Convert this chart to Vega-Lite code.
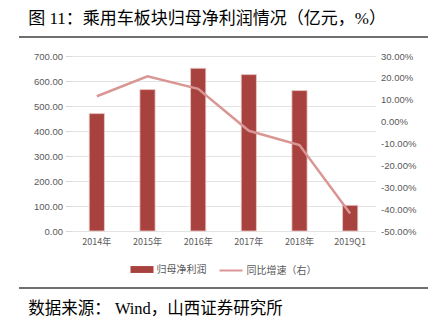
{
  "$schema": "https://vega.github.io/schema/vega-lite/v6.json",
  "background": "white",
  "padding": {"left": 18, "top": 10, "right": 8, "bottom": 2},
  "bounds": "flush",
  "center": true,
  "spacing": 19,
  "resolve": {"scale": {"fill": "independent", "stroke": "independent"}, "legend": {"fill": "independent", "stroke": "independent"}},
  "config": {
    "view": {"stroke": null},
    "font": "Noto Sans CJK SC",
    "axis": {"labelColor": "#595959", "grid": false, "domain": false, "ticks": false, "title": null},
    "legend": {"labelFont": "Noto Sans CJK SC", "labelFontSize": 10, "labelColor": "#595959", "orient": "bottom", "direction": "horizontal", "offset": 12,
      "layout": {"bottom": {"anchor": "middle", "direction": "horizontal", "margin": 12}}}
  },
  "datasets": {
    "main": [
      {"period": "2014年", "profit": 469.6, "growth": 0.116},
      {"period": "2015年", "profit": 565.6, "growth": 0.207},
      {"period": "2016年", "profit": 650.8, "growth": 0.150},
      {"period": "2017年", "profit": 625.6, "growth": -0.042},
      {"period": "2018年", "profit": 561.6, "growth": -0.107},
      {"period": "2019Q1", "profit": 102.8, "growth": -0.42}
    ]
  },
  "vconcat": [
    {
      "width": 409,
      "height": 1,
      "title": {"text": "图 11：乘用车板块归母净利润情况（亿元，%）", "anchor": "start", "font": "Liberation Serif, Noto Sans CJK SC", "fontSize": 17, "fontWeight": "normal", "color": "#000000", "offset": 8, "dx": 10},
      "data": {"values": [{}]},
      "mark": {"type": "rule", "color": "#3f3f3f", "strokeWidth": 1.5},
      "encoding": {
        "x": {"datum": 0, "type": "quantitative", "scale": {"domain": [0, 1]}, "axis": null},
        "x2": {"datum": 1},
        "y": {"datum": 0, "type": "quantitative", "scale": {"domain": [0, 1]}, "axis": null}
      }
    },
    {
      "width": 304,
      "height": 175,
      "data": {"name": "main"},
      "layer": [
        {
          "mark": {"type": "bar", "color": "#A8423F", "stroke": "#EBC9C7", "strokeWidth": 0.8},
          "encoding": {
            "x": {"field": "period", "type": "nominal", "sort": null, "scale": {"paddingInner": 0.7, "paddingOuter": 0.35},
              "axis": {"labelAngle": 0, "labelFont": "Noto Sans CJK SC", "labelFontSize": 9, "labelPadding": 6}},
            "y": {"field": "profit", "type": "quantitative", "scale": {"domain": [0, 700]},
              "axis": {"values": [0, 100, 200, 300, 400, 500, 600, 700], "format": ".2f", "grid": true, "gridColor": "#E3E3E3", "gridWidth": 1, "ticks": true, "tickColor": "#D9D9D9", "tickSize": 6, "labelPadding": 3, "labelFont": "Liberation Sans", "labelFontSize": 9.5}},
            "fill": {"datum": "归母净利润", "type": "nominal", "scale": {"range": ["#A8423F"]},
              "legend": {"title": null, "symbolType": "M-1,-0.3H1V0.3H-1Z", "symbolSize": 529, "symbolStrokeWidth": 0, "labelOffset": 3}}
          }
        },
        {
          "mark": {"type": "line", "strokeWidth": 2.5},
          "encoding": {
            "x": {"field": "period", "type": "nominal", "sort": null},
            "y": {"field": "growth", "type": "quantitative", "scale": {"domain": [-0.5, 0.3]},
              "axis": {"orient": "right", "values": [-0.5, -0.4, -0.3, -0.2, -0.1, 0, 0.1, 0.2, 0.3], "labelExpr": "replace(format(datum.value, '.2%'), '−', '-')", "labelPadding": 5, "labelFont": "Liberation Sans", "labelFontSize": 9.5}},
            "stroke": {"datum": "同比增速（右）", "type": "nominal", "scale": {"range": ["#D99694"]},
              "legend": {"title": null, "symbolType": "stroke", "symbolSize": 529, "symbolStrokeWidth": 2, "labelOffset": 3}}
          }
        }
      ],
      "resolve": {"scale": {"y": "independent"}}
    },
    {
      "width": 409,
      "height": 38,
      "title": {"text": "数据来源：  Wind，山西证券研究所", "orient": "bottom", "anchor": "start", "font": "Liberation Serif, Noto Sans CJK SC", "fontSize": 16.5, "fontWeight": "normal", "color": "#000000", "offset": 12, "dx": 10},
      "data": {"values": [{}]},
      "mark": {"type": "rule", "color": "#3f3f3f", "strokeWidth": 1.5},
      "encoding": {
        "x": {"datum": 0, "type": "quantitative", "scale": {"domain": [0, 1]}, "axis": null},
        "x2": {"datum": 1},
        "y": {"datum": 0, "type": "quantitative", "scale": {"domain": [0, 1]}, "axis": null}
      }
    }
  ]
}
